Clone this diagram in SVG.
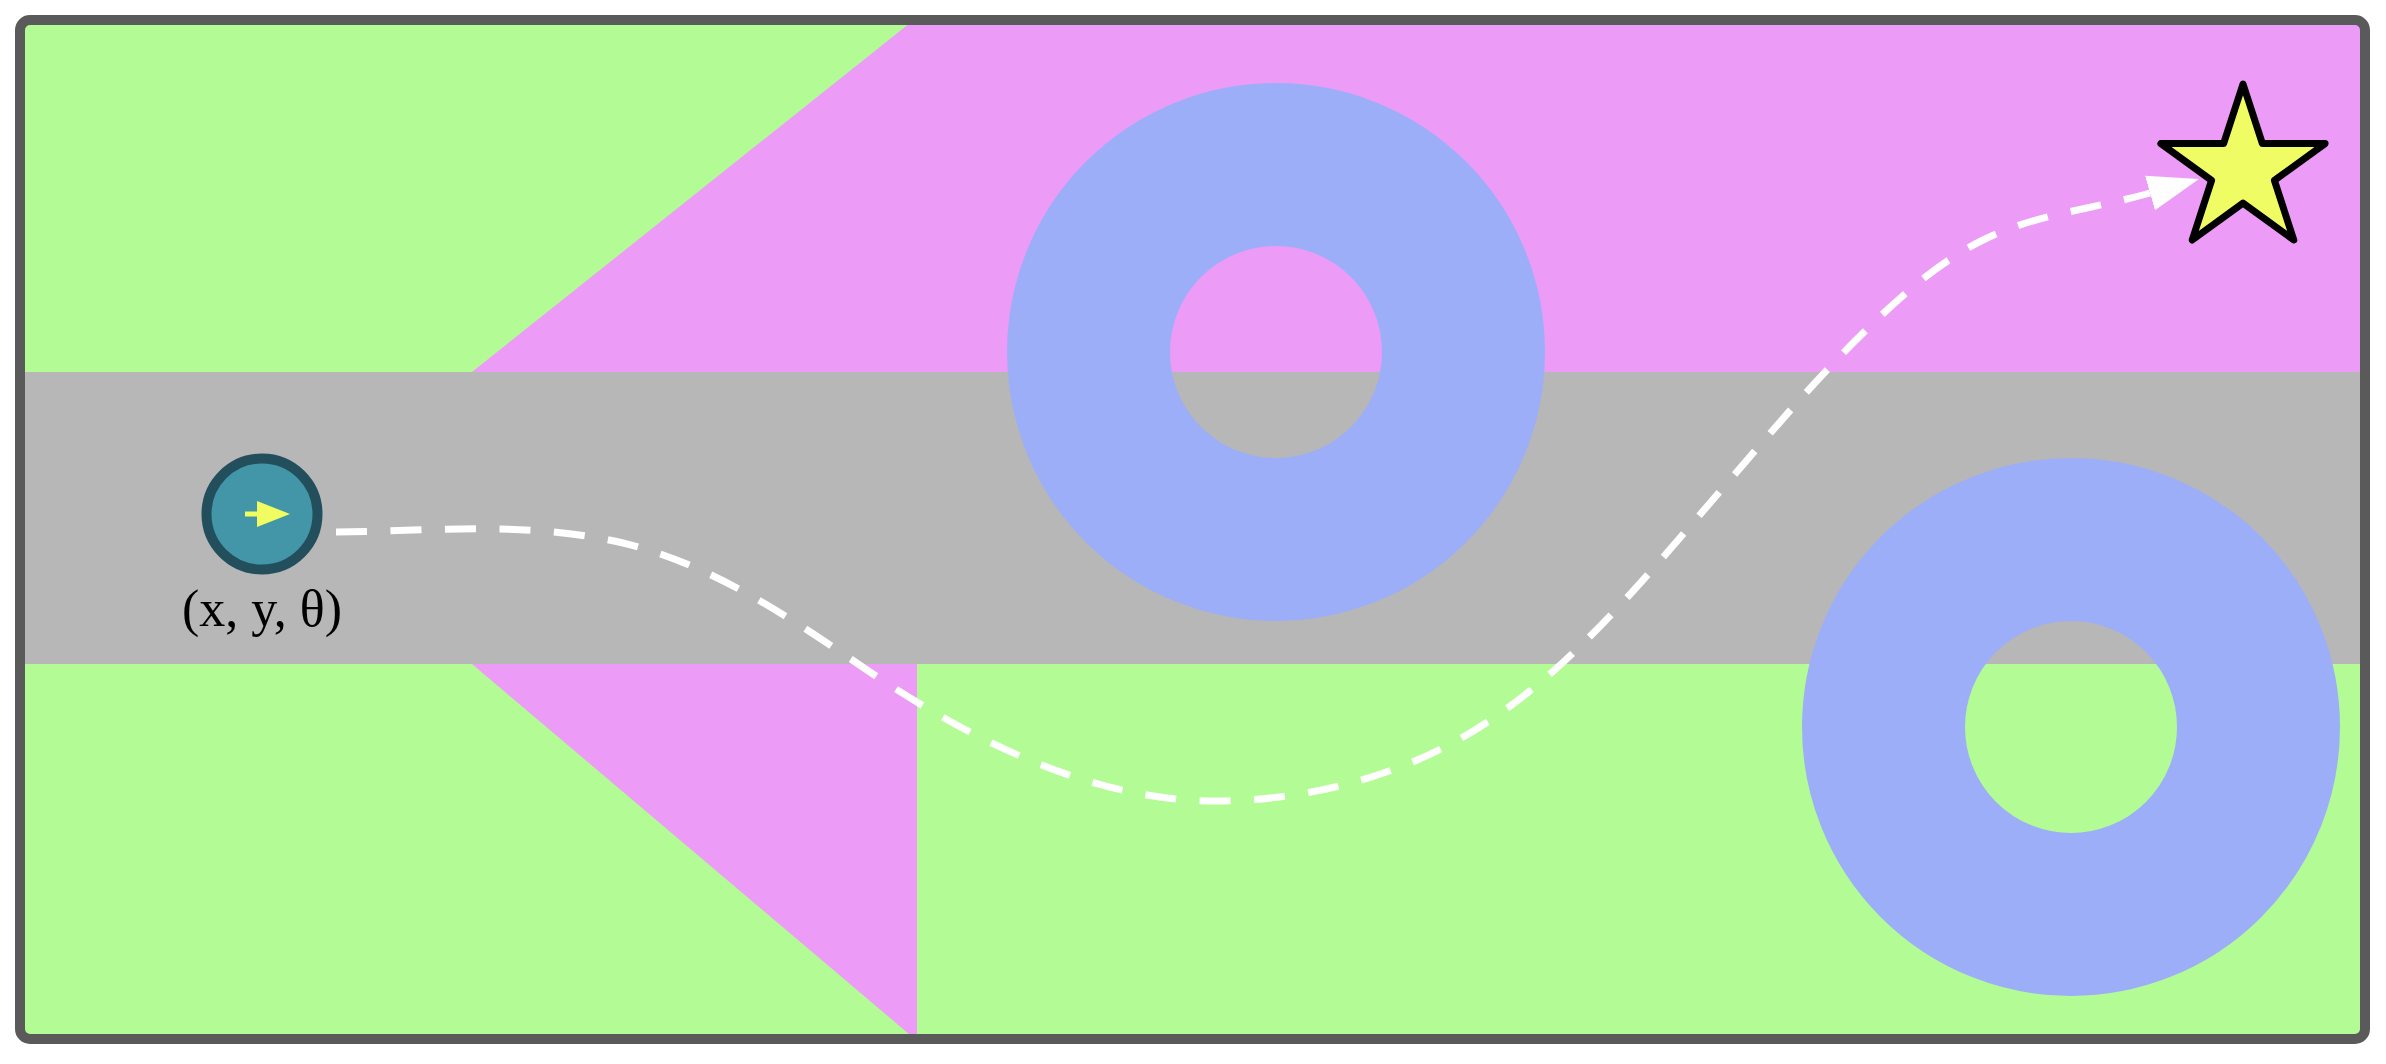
<svg xmlns="http://www.w3.org/2000/svg" width="2386" height="1064" viewBox="0 0 2386 1064">
  <style>
    .green { fill: #b3fb94; }
    .pink { fill: #ec9bf7; }
    .road { fill: #b7b7b7; }
    .donut { fill: none; stroke: #9daef8; stroke-width: 163; }
    .path { fill: none; stroke: #ffffff; stroke-width: 7; stroke-dasharray: 31 23.5; }
    .label { font-family: "Liberation Serif", "Times New Roman", serif; font-size: 52px; fill: #000000; }
  </style>
  <defs>
    <clipPath id="inner">
      <rect x="20" y="20" width="2345" height="1019" rx="10"/>
    </clipPath>
    <marker id="head" markerUnits="userSpaceOnUse" markerWidth="60" markerHeight="44" viewBox="0 -22 60 44" refX="0" refY="0" orient="auto">
      <path d="M0,-18 L51,0 L0,18 Z" fill="#ffffff"/>
    </marker>
  </defs>

  <g id="map" clip-path="url(#inner)">
    <rect class="green" x="15" y="15" width="2356" height="1030"/>
    <polygon id="zone-top" class="pink" points="920,15 2371,15 2371,372 472,372"/>
    <rect id="road" class="road" x="15" y="372" width="2356" height="292"/>
    <polygon id="zone-bottom" class="pink" points="472,664 917,664 917,1045 910,1045 909,1034"/>
  </g>

  <g id="obstacle-1">
    <circle class="donut" cx="1276" cy="352" r="187.5"/>
  </g>
  <g id="obstacle-2">
    <circle class="donut" cx="2071" cy="727" r="187.5"/>
  </g>

  <rect id="frame" x="20" y="20" width="2345" height="1019" rx="10" fill="none" stroke="#5a5a5a" stroke-width="10"/>

  <g id="connectors">
    <path class="path" marker-end="url(#head)" d="M336,532 C432,531 529.6,521 623,543 C711,564 789,617 864,668 C967,738 1090,801 1215,801 C1305,801 1398.5,777.4 1475,730 C1567.7,672.6 1638.5,585.3 1710,503 C1757.5,448.4 1804,392 1855,341 C1893.4,302.6 1934.4,264.3 1983,240 C2034.5,214.2 2094.6,208.9 2150,193"/>
  </g>

  <g id="robot">
    <circle cx="262" cy="514" r="55.5" fill="#4296a8" stroke="#234f5d" stroke-width="10"/>
    <line x1="245" y1="514" x2="258" y2="514" stroke="#f0fc5f" stroke-width="5"/>
    <polygon points="257,501 290,514 257,527" fill="#f0fc5f"/>
  </g>
  <g id="robot-label">
    <text class="label" x="262" y="626" text-anchor="middle">(x, y, θ)</text>
  </g>

  <g id="goal">
    <polygon points="2243,84 2262.4,143.6 2325.1,143.6 2274.4,180.4 2293.8,240 2243,203.2 2192.2,240 2211.6,180.4 2160.9,143.6 2223.6,143.6" fill="#f0fc64" stroke="#000000" stroke-width="7" stroke-linejoin="round"/>
  </g>
</svg>
